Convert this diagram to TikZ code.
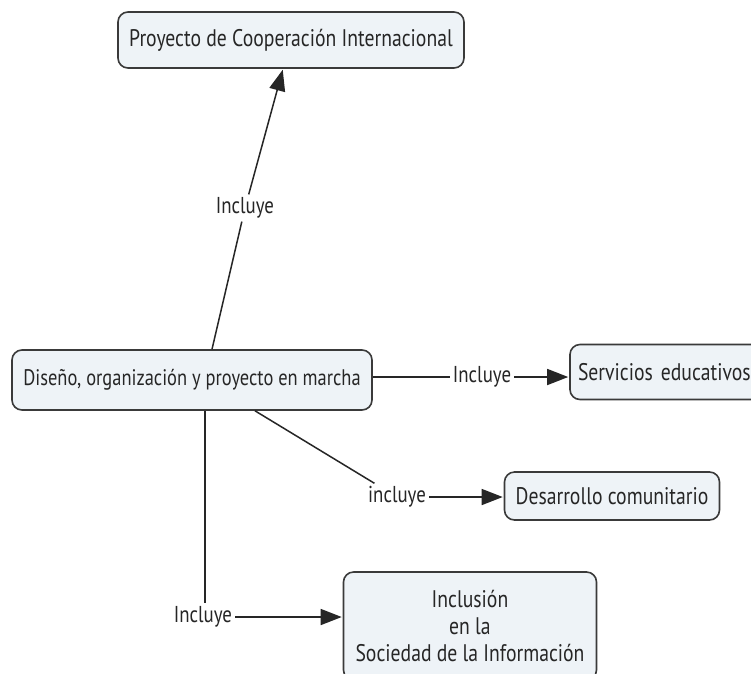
\documentclass[tikz,border=0pt]{standalone}
\usepackage{fontspec}
\setmainfont[FakeStretch=0.82]{PT Sans}
\usetikzlibrary{arrows.meta}
\definecolor{boxfill}{HTML}{EEF3F7}
\definecolor{boxline}{HTML}{3A3A3A}
\tikzset{
  concept/.style={draw=boxline, fill=boxfill, line width=1.6pt, rounded corners=10pt,
    align=center, font=\fontsize{24}{27}\selectfont, text=black!85, inner sep=0pt},
  lab/.style={font=\fontsize{23}{25}\selectfont, text=black!85, inner sep=3pt},
  link/.style={draw=black!85, line width=1.5pt},
  arr/.style={link, -{Triangle[length=21pt,width=16pt]}, shorten >=1pt}
}
\begin{document}
\begin{tikzpicture}[x=1pt,y=-1pt]
\useasboundingbox (0,0) rectangle (751,673);
\clip (0,0) rectangle (751,673);
\fill[white] (0,0) rectangle (751,673);
% concepts
\node[concept, minimum width=346pt, minimum height=56pt] (top) at (291,40) {Proyecto de Cooperación Internacional};
\node[concept, minimum width=360pt, minimum height=60pt, font=\fontsize{22.5}{27}\selectfont] (main) at (192,380) {Diseño, organización y proyecto en marcha};
\node[concept, minimum height=55pt, text width=184pt, align=left, inner xsep=8pt] (serv) at (670,372) {\mbox{Servicios educativos}};
\node[concept, minimum width=215pt, minimum height=48pt] (des) at (612,496) {Desarrollo comunitario};
\node[concept, minimum width=253pt, minimum height=108pt] (inc) at (470,626) {Inclusión\\en la\\Sociedad de la Información};
% link labels
\node[lab] (l1) at (245,208) {Incluye};
\node[lab] (l2) at (482,377) {Incluye};
\node[lab] (l3) at (397,497) {incluye};
\node[lab] (l4) at (203,617) {Incluye};
% connectors
\draw[link] ([xshift=20pt]main.north) -- (l1);
\draw[arr] (l1) -- ([xshift=-8pt]top.south);
\draw[link] (main.east |- l2) -- (l2);
\draw[arr] (l2) -- (serv.west |- l2);
\draw[link] ([xshift=63pt]main.south) -- (l3);
\draw[arr] (l3) -- (des.west |- l3);
\draw[link] ([xshift=13pt]main.south) -- (l4.north -| {205,0});
\draw[arr] (l4) -- (inc.west |- l4);
\end{tikzpicture}
\end{document}
